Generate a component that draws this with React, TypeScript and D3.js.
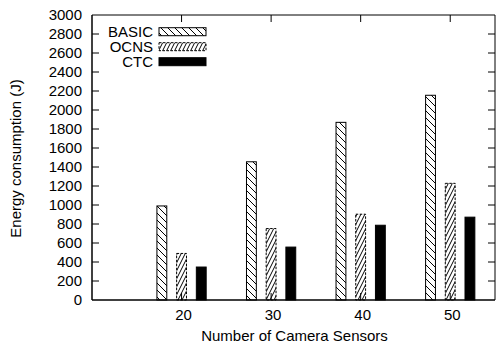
import React from "react";
import * as d3 from "d3";

const categories = [20, 30, 40, 50];
const seriesNames = ["BASIC", "OCNS", "CTC"];
const basicValues = [990, 1455, 1870, 2155];
const ocnsValues = [490, 752, 903, 1228];
const ctcValues = [347, 557, 787, 872];
const yTicks = [0, 200, 400, 600, 800, 1000, 1200, 1400, 1600, 1800, 2000, 2200, 2400, 2600, 2800, 3000];

const W = 499;
const H = 347;
const left = 92;
const right = 495;
const top = 15;
const bottom = 300;

export default function App() {
  const x = d3.scaleLinear().domain([10, 55]).range([left, right]);
  const y = d3.scaleLinear().domain([0, 3000]).range([bottom, top]);
  const series = [basicValues, ocnsValues, ctcValues];
  const offsets = [-2.2, 0, 2.2];
  const barW = x(11.1) - x(10);
  const fills = ["url(#pBasic)", "url(#pOcns)", "#000"];
  const strokes = ["#000", "#000", "#000"];
  const dashes = [undefined, "2.5,1.5", undefined];
  const font = "'Liberation Sans', Arial, Helvetica, sans-serif";
  const fs = 15;

  return (
    <svg width={W} height={H} style={{ position: "absolute", left: 0, top: 0, background: "#fff" }} fontFamily={font}>
      <defs>
        <pattern id="pBasic" patternUnits="userSpaceOnUse" width={7} height={7}>
          <rect width={7} height={7} fill="#fff" />
          <path d="M0,0 L7,7 M-1,6 L1,8 M6,-1 L8,1" stroke="#000" strokeWidth={1} />
        </pattern>
        <pattern id="pOcns" patternUnits="userSpaceOnUse" width={4} height={8}>
          <rect width={4} height={8} fill="#fff" />
          <path d="M0,8 L4,0 M-1,2 L0,0 M4,8 L5,6" stroke="#000" strokeWidth={1} />
        </pattern>
      </defs>
      <rect x={0} y={0} width={W} height={H} fill="#fff" />
      {/* bars */}
      {series.map((vals, si) =>
        vals.map((v, ci) => {
          const cx = x(categories[ci] + offsets[si]);
          return (
            <rect
              key={`${si}-${ci}`}
              x={cx - barW / 2}
              y={y(v)}
              width={barW}
              height={y(0) - y(v)}
              fill={fills[si]}
              stroke={strokes[si]}
              strokeWidth={1}
              strokeDasharray={dashes[si]}
            />
          );
        })
      )}
      {/* frame */}
      <line x1={left} x2={right} y1={top} y2={top} stroke="#000" strokeWidth={1} />
      <line x1={right} x2={right} y1={top} y2={bottom} stroke="#000" strokeWidth={1} />
      <line x1={left} x2={left} y1={top} y2={bottom} stroke="#000" strokeWidth={1.5} />
      <line x1={left} x2={right} y1={bottom} y2={bottom} stroke="#000" strokeWidth={1.5} />
      {/* y ticks */}
      {yTicks.map((t) => (
        <g key={t}>
          {t > 0 && t < 3000 && (
            <>
              <line x1={left} x2={left + 7} y1={y(t)} y2={y(t)} stroke="#000" />
              <line x1={right} x2={right - 7} y1={y(t)} y2={y(t)} stroke="#000" />
            </>
          )}
          <text x={82} y={y(t)} dy="0.36em" textAnchor="end" fontSize={fs}>
            {t}
          </text>
        </g>
      ))}
      {/* x ticks */}
      {categories.map((c) => (
        <g key={c}>
          <line x1={x(c)} x2={x(c)} y1={top} y2={top + 7} stroke="#000" />
          <line x1={x(c)} x2={x(c)} y1={bottom} y2={bottom - 7} stroke="#000" />
          <text x={x(c) + 2} y={315} dy="0.36em" textAnchor="middle" fontSize={fs}>
            {c}
          </text>
        </g>
      ))}
      {/* axis titles */}
      <text x={(left + right) / 2 + 1} y={336} dy="0.36em" textAnchor="middle" fontSize={fs}>
        Number of Camera Sensors
      </text>
      <text
        transform={`translate(16,${(top + bottom) / 2 + 1}) rotate(-90)`}
        dy="0.36em"
        textAnchor="middle"
        fontSize={fs}
      >
        Energy consumption (J)
      </text>
      {/* legend */}
      {seriesNames.map((n, i) => {
        const ly = 31.7 + i * 15;
        return (
          <g key={n}>
            <rect x={0} y={0} width={0} height={0} fill="none" />
            <text x={153} y={ly} dy="0.36em" textAnchor="end" fontSize={fs}>
              {n}
            </text>
            <rect
              x={159}
              y={ly - 4}
              width={47}
              height={8}
              fill={fills[i]}
              stroke={strokes[i]}
              strokeWidth={1}
              strokeDasharray={dashes[i]}
            />
          </g>
        );
      })}
    </svg>
  );
}
